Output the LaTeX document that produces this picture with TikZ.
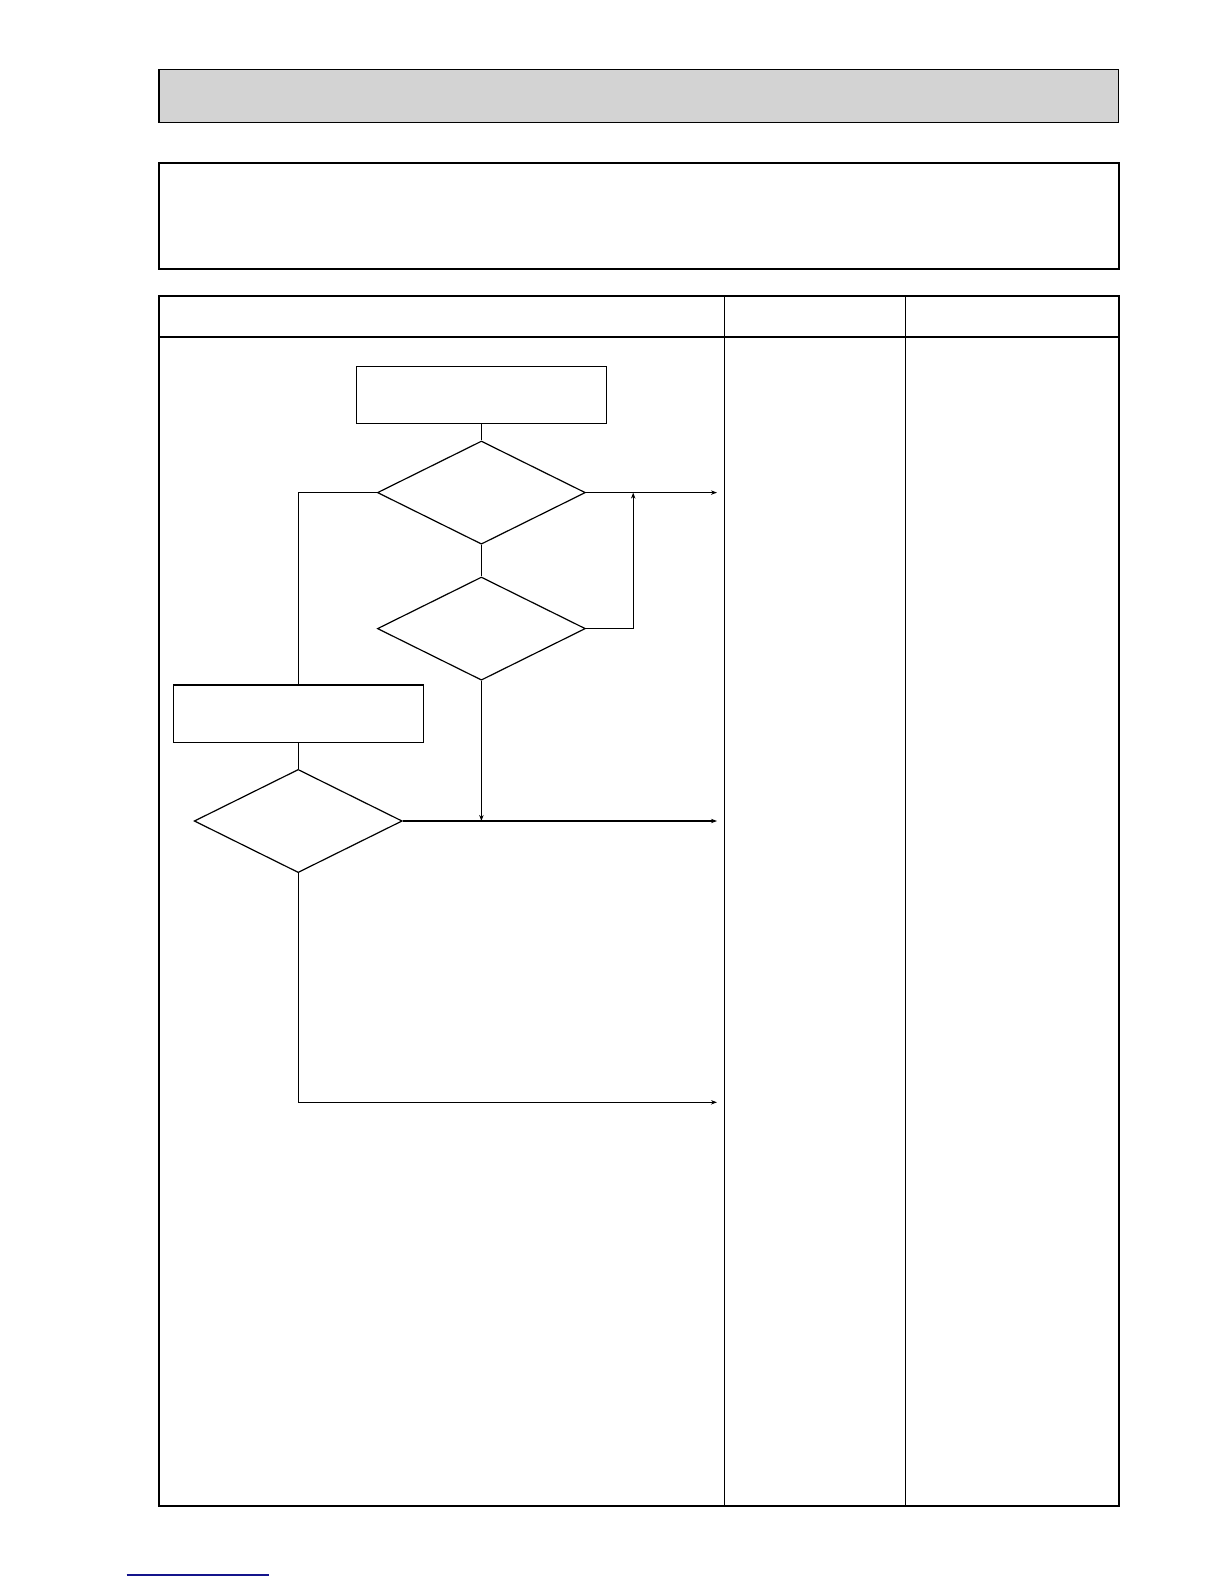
\documentclass[tikz,border=0pt]{standalone}
\usetikzlibrary{shapes.geometric,arrows.meta}
\definecolor{hdrgray}{RGB}{211,211,211}
\definecolor{linkblue}{RGB}{20,20,140}
\tikzset{
  flowline/.style={line width=0.6pt},
  flowarrow/.style={flowline,-{Stealth[length=3pt,width=2.2pt]}},
  procbox/.style={draw,line width=0.6pt,rectangle,inner sep=0pt,minimum width=125pt,minimum height=28.8pt},
  decision/.style={draw,line width=0.6pt,diamond,inner sep=0pt,minimum width=104pt,minimum height=51.6pt},
  thinrule/.style={line width=0.6pt},
}
\begin{document}
\begin{tikzpicture}[x=0.5pt,y=-0.5pt]
\useasboundingbox (0,0) rectangle (1224,1584);
\fill[white] (0,0) rectangle (1224,1584);
% title bar
\draw[fill=hdrgray,line width=0.75pt] (159,69.3) rectangle (1118.5,122.3);
% description box
\draw[line width=1.2pt] (159,163) rectangle (1118.8,269.2);
% table
\draw[line width=1pt] (159,296.3) rectangle (1118.8,1506.3);
\draw[thinrule] (159,337) -- (1118.8,337);
\draw[thinrule] (724.3,296.3) -- (724.3,1506.3);
\draw[thinrule] (905.7,296.3) -- (905.7,1506.3);
% flowchart nodes
\node[procbox] (b1) at (481.4,395) {};
\node[decision] (d1) at (481.4,492.6) {};
\node[decision] (d2) at (481.4,628.6) {};
\node[procbox] (b2) at (298.2,713.8) {};
\node[decision] (d3) at (298.2,821) {};
\coordinate (o1) at (717,492.6);
\coordinate (j1) at (633.2,492.6);
\coordinate (o2) at (717,821);
\coordinate (j2) at (481.4,821);
\coordinate (o3) at (717,1102.3);
% connectors
\draw[flowline] (b1.south) -- (d1.north);
\draw[flowarrow] (d1.east) -- (o1);
\draw[flowline] (d1.south) -- (d2.north);
\draw[flowarrow] (d2.east) -| (j1);
\draw[flowline] (d1.west) -| (b2.north);
\draw[flowline] (b2.south) -- (d3.north);
\draw[flowarrow] (d3.east) -- (o2);
\draw[flowarrow] (d2.south) -- (j2);
\draw[flowarrow] (d3.south) |- (o3);
% footer link rule
\draw[linkblue,line width=0.6pt] (126.7,1575) -- (269,1575);
\end{tikzpicture}
\end{document}
